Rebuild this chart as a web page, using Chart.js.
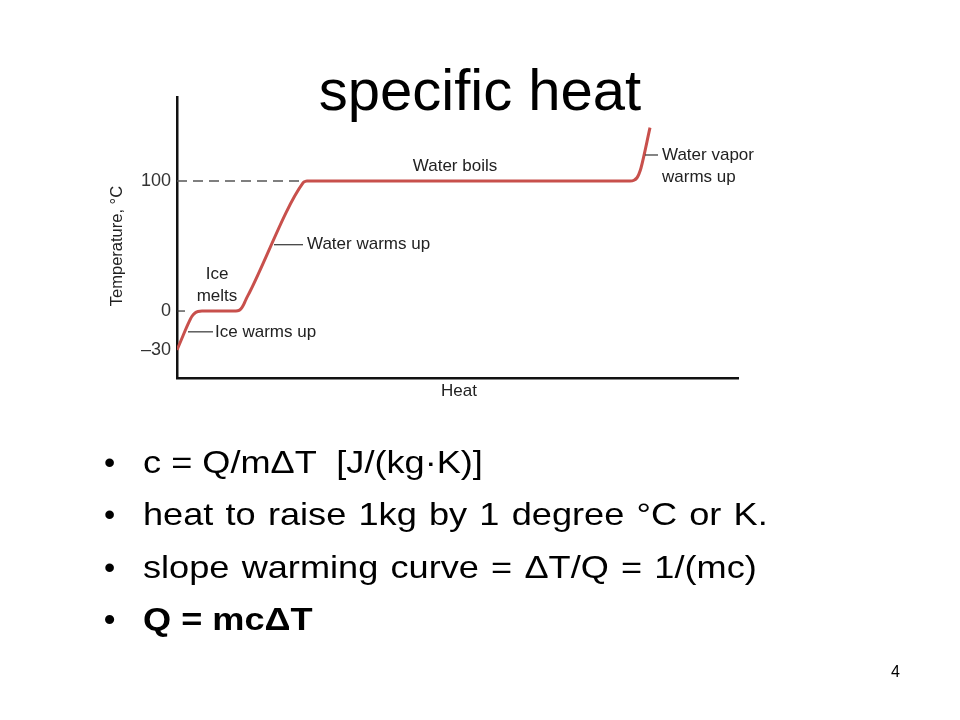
<!DOCTYPE html>
<html><head><meta charset="utf-8">
<script src="https://cdn.jsdelivr.net/npm/chart.js@4"></script>
<style>
html,body{margin:0;padding:0;background:#fff;width:960px;height:720px;overflow:hidden;font-family:"Liberation Sans",Arial,sans-serif;}
#c{position:absolute;left:0;top:0;}
.title{position:absolute;left:0;width:960px;text-align:center;top:61px;font-size:58px;line-height:58px;color:#000;white-space:pre;}
.bul{position:absolute;left:104px;font-size:32px;line-height:32px;color:#000;white-space:pre;}
.bul span{position:absolute;left:39px;top:0;transform-origin:0 0;transform:scaleX(1.13);}
.pg{position:absolute;left:891px;top:663px;font-size:16px;color:#000;}
</style></head>
<body>
<canvas id="c" width="960" height="720"></canvas>
<div class="title">specific heat</div>
<div class="bul" style="top:446px">•<span>c = Q/mΔT  [J/(kg·K)]</span></div>
<div class="bul" style="top:498px">•<span style="word-spacing:1.9px">heat to raise 1kg by 1 degree °C or K.</span></div>
<div class="bul" style="top:551px">•<span style="word-spacing:1.9px">slope warming curve = ΔT/Q = 1/(mc)</span></div>
<div class="bul" style="top:603px;font-weight:bold">•<span>Q = mcΔT</span></div>
<div class="pg">4</div>
<script>
// Heat (arbitrary units) vs temperature (°C)
const heat = [0, 6, 11, 15, 18, 21, 25, 59, 62, 64, 66, 69, 73, 126, 128, 130, 453, 457, 460, 462, 464, 473];
const temp = [-30, -19, -10, -4, -1.5, -0.4, 0, 0, 0.5, 1.8, 4, 9, 15, 98.5, 99.6, 100, 100, 100.6, 102.5, 105.5, 110, 141];
const yTicks = [-30, 0, 100];
const yTickLabels = ['\u201330', '0', '100'];
const dashHeat = [0, 130];
const dashTemp = [100, 100];
const zeroTickHeat = [0, 8];
const zeroTickTemp = [0, 0];
const xTitle = 'Heat';
const yTitle = 'Temperature, °C';
// annotation labels
const labels = [
  {lines:['Water boils'], x:278, t:111, align:'center'},
  {lines:['Ice','melts'], x:40, t:20, align:'center', lh:22},
  {lines:['Water warms up'], x:130, t:51, align:'left'},
  {lines:['Ice warms up'], x:38, t:-16, align:'left'},
  {lines:['Water vapor','warms up'], x:485, t:111, align:'left', lh:22}
];
// leader lines: [heat1, heat2, temp]
const leaders = [
  [97, 126, 51],
  [11, 36, -16],
  [468, 481, 120]
];

const pts = heat.map((h,i)=>({x:h,y:temp[i]}));
const dash = dashHeat.map((h,i)=>({x:h,y:dashTemp[i]}));
const zt = zeroTickHeat.map((h,i)=>({x:h,y:zeroTickTemp[i]}));
const FONT = '"Liberation Sans", Arial, sans-serif';

const annot = {
  id:'annot',
  afterDraw(chart){
    const ctx = chart.ctx, xs = chart.scales.x, ys = chart.scales.y, ca = chart.chartArea;
    ctx.save();
    ctx.strokeStyle = '#333'; ctx.lineWidth = 1.2;
    leaders.forEach(l=>{
      ctx.beginPath();
      ctx.moveTo(xs.getPixelForValue(l[0]), ys.getPixelForValue(l[2]));
      ctx.lineTo(xs.getPixelForValue(l[1]), ys.getPixelForValue(l[2]));
      ctx.stroke();
    });
    ctx.fillStyle = '#222';
    ctx.font = '17px ' + FONT;
    ctx.textBaseline = 'middle';
    labels.forEach(L=>{
      ctx.textAlign = L.align;
      const px = xs.getPixelForValue(L.x), py = ys.getPixelForValue(L.t);
      const lh = L.lh || 18;
      L.lines.forEach((s,i)=>{
        ctx.fillText(s, px, py + (i - (L.lines.length-1)/2)*lh);
      });
    });
    // axis titles
    ctx.textAlign = 'center';
    ctx.fillText(xTitle, xs.getPixelForValue(282), ca.bottom + 13);
    ctx.font = '16.5px ' + FONT;
    ctx.translate(ca.left - 60, ys.getPixelForValue(50));
    ctx.rotate(-Math.PI/2);
    ctx.fillText(yTitle, 0, 0);
    ctx.restore();
  }
};

new Chart(document.getElementById('c'), {
  type:'line',
  data:{datasets:[
    {data:pts, borderColor:'#c8504c', borderWidth:3, pointRadius:0, cubicInterpolationMode:'monotone', fill:false},
    {data:dash, borderColor:'#555', borderWidth:1.3, borderDash:[10,6], pointRadius:0, fill:false},
    {data:zt, borderColor:'#333', borderWidth:1.2, pointRadius:0, fill:false}
  ]},
  options:{
    responsive:false, animation:false, events:[],
    layout:{padding:{left:100, top:97, right:222, bottom:312}},
    plugins:{legend:{display:false}, tooltip:{enabled:false}},
    scales:{
      x:{type:'linear', min:0, max:561,
        grid:{display:false, drawTicks:false},
        border:{display:true, color:'#111', width:2.5},
        ticks:{display:false},
        title:{display:false},
        afterFit(s){ s.height = 30; }
      },
      y:{type:'linear', min:-51.5, max:164.6,
        grid:{display:false, drawTicks:false},
        border:{display:true, color:'#111', width:2.5},
        afterBuildTicks(s){ s.ticks = yTicks.map(v=>({value:v})); },
        ticks:{color:'#333', padding:6, font:{size:18, family:FONT},
          callback(v){ const i = yTicks.indexOf(v); return i>=0 ? yTickLabels[i] : ''; }},
        title:{display:false},
        afterFit(s){ s.width = 77; }
      }
    }
  },
  plugins:[annot]
});
</script>
</body></html>
